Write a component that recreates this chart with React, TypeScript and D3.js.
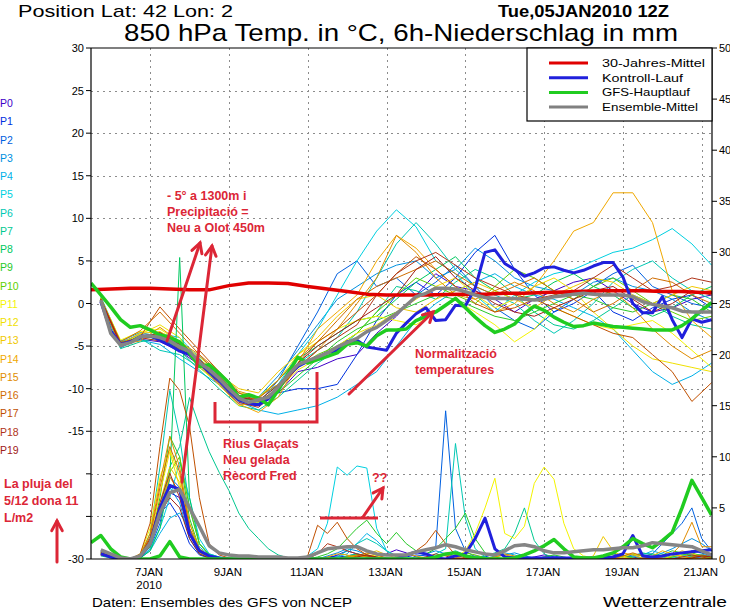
import React from 'react';
import * as d3 from 'd3';

// ---------- DATA ----------
// time index t: 6-hour steps starting 05JAN2010 12Z (t=0) to 21JAN 06Z (t=63)
const dateLabels = ['7JAN', '9JAN', '11JAN', '13JAN', '15JAN', '17JAN', '19JAN', '21JAN'];
const dateTimes = [6, 14, 22, 30, 38, 46, 54, 62];
const leftTicks = [30, 25, 20, 15, 10, 5, 0, -5, -10, -15, -20, -25, -30];
const leftTickLabels = ['30', '25', '20', '15', '10', '5', '0', '-5', '-10', '-15', '', '', '-30'];
const rightTicks = [50, 45, 40, 35, 30, 25, 20, 15, 10, 5, 0];
const gridTemps = [25, 20, 15, 10, 5, 0, -5, -10, -15, -20, -25];

const memberNames = ['P0','P1','P2','P3','P4','P5','P6','P7','P8','P9','P10','P11','P12','P13','P14','P15','P16','P17','P18','P19'];
const memberColors = ['#4000c8','#0030e0','#0060e0','#0090e0','#00b0e8','#00d0e0','#00c8b4','#00c890','#00c860','#28c828',
  '#60d000','#f4f400','#f0e000','#f0c800','#f0a800','#e08c00','#d06c00','#c05000','#b03418','#a02018'];

// 30-year climatology, 12h steps t=0,2,...,64
const climTemp = [1.6,1.7,1.8,1.8,1.7,1.6,1.6,2.1,2.4,2.4,2.35,2.0,1.7,1.4,1.1,1.0,1.0,1.0,1.05,1.1,1.1,1.2,1.2,1.3,1.35,1.45,1.5,1.5,1.5,1.4,1.4,1.3,1.3];

// GFS main run, 6h steps t=0..63
const gfsTemp = [2.4,1.0,-0.4,-1.9,-2.8,-2.6,-3.1,-3.7, -4.0,-4.5,-5.8,-7.4,-7.2,-8.2,-9.3,-11.0,
  -10.7,-11.1,-11.9,-10.2,-8.2,-6.3,-7.0,-6.6, -6.2,-5.8,-4.8,-4.6,-5.0,-3.8,-3.1,-3.1,
  -3.0,-2.0,-1.5,-1.0,-0.2,0.6,-0.5,-1.6, -2.6,-3.4,-3.0,-2.4,-1.2,-0.3,-0.8,-1.6,
  -2.2,-2.7,-2.6,-2.3,-2.5,-2.7,-2.8,-2.9, -3.0,-3.1,-3.1,-3.1,-2.6,-1.8,-0.8,0.1];
const gfsPrec = [1.6,2.3,1.0,0.2,0,0,0,0.3, 1.7,0.2,0,0,0,0,0,0, 0,0,0,0,0,0,0,0, 0,0,0,0,0,0,0,0,
  0,0,0,0.2,0.5,0.6,0.3,0.1, 0,0,0,0.1,0.4,0.8,1.3,1.9, 1.0,0.2,0.1,0.1,0.3,0.6,1.2,2.0, 1.5,1.1,1.8,2.6,5.0,7.7,6.0,4.3];

// Control run, 6h steps t=1..63
const ctrlTemp = [0.2,-3.2,-4.8,-4.5,-3.9,-3.8,-4.3, -4.9,-5.6,-6.0,-7.0,-8.0,-9.0,-10.2,
  -11.3,-11.7,-11.9,-11.2,-9.8,-8.4,-7.4, -6.8,-6.3,-5.8,-5.5,-4.5,-4.3,-5.1,
  -5.3,-5.5,-3.5,-2.3,-1.2,-0.5,-2.0, -1.9,-0.2,-0.3,1.8,6.0,6.3,4.7,
  4.0,3.2,3.6,4.2,4.3,3.9,3.6, 3.9,4.4,4.8,4.8,3.1,0.0,-1.1, -1.1,0.8,-1.9,-4.0,-1.8,-2.2,-1.9];
const ctrlPrec = [0.5,0.2,0,0,0.2,1.5,5.0, 7.2,6.8,2.5,0.8,0.3,0.1,0, 0,0,0,0,0,0,0, 0,0,0,0,0,0,0,
  0,0,0,0.4,0.7,0.5,0.1, 0,0.3,0.5,2.0,4.0,1.0,0.2, 0.1,0.1,0.1,0.1,0.1,0.1,0.1,
  0.1,0.1,0.1,0.2,0.5,2.3,0.3, 0.2,0.3,0.5,0.6,0.7,0.8,0.9];

// Ensemble mean, 6h steps t=1..63
const meanTemp = [0.4,-3.5,-4.9,-4.6,-3.9,-3.8,-4.0, -4.4,-5.1,-5.6,-6.9,-7.8,-8.8,-10.0,
  -11.1,-11.6,-11.3,-11.0,-9.8,-8.4,-7.2, -6.7,-6.3,-5.8,-5.1,-4.6,-4.1,-3.3,
  -2.8,-2.0,-1.2,-0.2,0.8,1.2,1.8, 1.8,1.7,1.4,1.0,0.7,0.6,0.6,
  0.6,0.5,0.4,0.5,0.8,0.9,1.1, 1.2,1.1,1.0,1.0,1.0,0.8,0.2, -0.1,-0.3,-0.5,-0.9,-1.0,-1.0,-1.0];
const meanPrec = [0.9,0.5,0.1,0,0.3,1.5,4.5, 6.5,6.8,5.0,3.2,1.3,0.6,0.4, 0.3,0.3,0.2,0.2,0.2,0.1,0.1,
  0.2,0.6,1.0,1.1,1.2,1.2,0.8, 0.5,0.4,0.4,0.4,0.7,0.9,1.1, 1.4,1.2,0.9,0.7,0.5,0.4,0.8,
  1.3,1.4,1.2,0.8,0.6,0.6,0.7, 0.8,0.9,0.9,1.0,1.1,1.1,1.3, 1.6,1.5,1.4,1.3,1.2,0.8,0.4];

// Members temperature, 12h steps t=1,3,...,63
const p0T = [0.3,-5.0,-4.2,-4.5,-5.6,-7.2,-9.4,-11.8, -12.0,-10.5,-8.0,-7.5,-6.5,-6.0,-3.5,-1.5, 1.0,3.5,2.0,1.5,0.5,-1.0,0.5,1.5, 2.5,3.0,1.5,0.0,-1.0,-0.5,0.5,1.0];
const p1T = [0.5,-4.6,-3.6,-4.2,-5.0,-6.5,-8.5,-10.8, -11.5,-10.5,-10.0,-10.0,-9.5,-6.0,-2.0,1.0, 2.5,1.0,3.0,6.0,8.0,4.0,1.0,-1.0, 0.0,1.5,-1.0,-2.0,-0.5,0.5,1.0,-0.5];
const p2T = [0.6,-5.2,-4.0,-3.8,-4.8,-7.0,-9.0,-11.3, -11.8,-9.0,-5.0,-1.0,3.5,5.0,2.0,3.0, 1.0,2.5,4.5,2.0,-0.5,-2.0,-3.0,-1.0, 0.5,2.0,3.5,4.5,2.0,1.0,0.0,-0.5];
const p3T = [0.4,-4.4,-3.4,-3.9,-4.6,-6.2,-8.2,-10.5, -11.0,-8.5,-5.5,-2.5,0.5,2.0,3.5,4.5, 5.0,3.0,4.0,6.5,5.0,3.0,2.0,1.5, 1.0,2.5,3.0,2.0,1.5,0.5,-1.0,-2.0];
const p4T = [0.7,-4.8,-4.3,-4.8,-6.5,-8.0,-9.5,-11.5, -12.5,-13.0,-12.5,-12.0,-11.0,-9.5,-8.0,-5.0, -2.0,0.0,1.5,2.5,3.5,2.0,1.0,0.5, -0.5,-1.5,-3.0,-5.5,-8.0,-9.5,-8.5,-7.0];
const p5T = [0.8,-4.5,-3.8,-3.5,-4.0,-6.5,-9.0,-11.0, -11.5,-9.5,-6.0,-3.0,1.0,5.0,8.5,11.0, 9.0,5.0,3.5,1.0,-1.0,1.0,2.5,3.5, 4.0,5.0,6.0,6.5,7.5,8.8,7.0,4.5];
const p6T = [0.5,-4.7,-4.1,-5.5,-6.0,-7.5,-9.2,-11.0, -11.0,-9.5,-7.0,-5.5,-4.0,-1.0,3.0,7.0, 9.5,7.0,4.0,2.0,1.0,0.0,-2.0,-3.5, -2.0,0.0,2.5,4.0,5.0,3.0,1.5,0.5];
const p7T = [0.3,-5.3,-4.5,-4.0,-5.5,-7.8,-10.0,-12.0, -12.5,-11.0,-9.0,-7.0,-5.5,-3.5,-1.0,2.0, 1.5,0.5,2.5,4.0,3.0,1.0,-1.0,-2.5, -3.0,-2.0,-0.5,1.0,0.0,-1.5,-2.5,-3.0];
const p8T = [0.6,-4.9,-3.7,-4.2,-5.2,-7.0,-8.6,-10.8, -11.0,-9.0,-6.5,-5.0,-3.5,-2.0,-1.5,0.5, 2.5,4.0,5.5,3.0,1.5,0.5,1.0,2.5, 3.5,2.0,1.0,-0.5,-1.5,-0.5,1.0,2.0];
const p9T = [0.4,-4.6,-3.9,-4.1,-5.4,-6.8,-8.8,-11.2, -11.4,-10.5,-8.5,-6.5,-4.5,-3.0,-2.0,-1.0, 0.0,1.0,0.5,-0.5,-1.5,-2.0,-1.0,0.0, 1.0,0.5,-0.5,-1.0,0.0,1.0,0.5,-1.0];
const p10T = [0.5,-5.0,-4.0,-3.7,-4.9,-6.9,-9.1,-11.4, -11.6,-9.9,-7.5,-6.0,-5.0,-3.5,-1.0,1.0, 3.0,2.0,1.0,0.0,2.0,4.0,3.0,1.5, 0.5,2.0,3.0,1.5,0.0,-1.0,-2.0,-1.5];
const p11T = [0.6,-4.3,-3.3,-3.0,-4.5,-6.3,-8.2,-10.5, -11.0,-9.0,-6.0,-4.5,-3.0,-2.0,-1.5,-2.0, -2.5,-1.0,0.5,-1.0,-2.5,-4.5,-3.0,-0.5, -1.5,-2.5,-3.0,-2.5,-2.0,-3.5,-5.5,-7.5];
const p12T = [0.7,-4.9,-3.6,-2.5,-4.0,-7.5,-9.5,-12.0, -11.5,-10.0,-7.8,-6.5,-5.0,-3.5,-2.5,-1.0, 0.5,2.0,3.0,1.0,-0.5,0.5,2.0,3.0, 1.5,-1.0,-3.0,-5.0,-6.5,-7.0,-7.5,-8.0];
const p13T = [0.4,-4.7,-3.5,-3.3,-4.6,-6.6,-8.3,-10.0, -10.5,-8.0,-6.0,-4.0,-1.5,0.5,1.0,-0.5, -1.0,0.5,1.5,2.5,1.5,0.5,-0.5,1.0, 2.0,3.0,2.5,1.0,0.0,1.0,2.0,1.5];
const p14T = [0.5,-5.1,-3.8,-3.6,-5.0,-7.2,-9.6,-11.8, -12.8,-11.0,-7.0,-3.0,-1.0,1.0,5.0,8.0, 6.5,4.0,2.0,0.5,-1.0,0.0,2.0,5.0, 8.5,9.5,13.0,13.0,9.5,1.5,-2.0,-4.0];
const p15T = [0.3,-4.8,-4.4,-2.8,-4.5,-6.0,-8.0,-10.3, -11.0,-9.5,-7.5,-5.5,-3.0,0.0,3.0,8.0, 6.0,3.0,1.0,0.5,1.5,2.5,1.5,0.0, -1.0,0.5,1.5,-0.5,-3.0,-5.0,-6.5,-5.5];
const p16T = [0.6,-4.5,-3.2,-1.0,-3.5,-6.0,-8.5,-11.0, -11.2,-9.0,-6.5,-4.5,-2.0,0.5,2.0,3.0, 4.0,5.0,3.5,2.0,1.0,2.0,3.0,1.5, 0.5,-1.0,0.0,1.5,3.0,2.5,1.0,0.0];
const p17T = [0.5,-4.9,-3.9,-0.4,-3.0,-5.5,-8.0,-10.5, -11.5,-10.0,-7.0,-4.5,-3.0,-1.0,1.0,3.5, 5.5,4.0,2.0,0.0,-1.0,-0.5,0.5,-0.5, -1.5,-2.5,-3.5,-4.0,-6.0,-8.0,-11.5,-9.3];
const p18T = [0.4,-4.6,-4.0,-4.4,-5.3,-7.1,-9.3,-11.6, -12.2,-10.2,-7.5,-5.5,-4.0,-2.5,1.0,3.5, 5.0,6.0,4.5,3.0,2.0,1.0,0.5,1.0, 1.5,3.0,4.5,3.0,1.5,2.0,3.0,2.5];
const p19T = [0.5,-4.8,-4.1,-3.4,-4.8,-6.6,-8.7,-11.0, -11.4,-9.6,-7.0,-5.0,-3.5,-2.0,-0.5,1.0, 4.0,5.5,3.0,1.5,0.0,-1.0,-1.5,-0.5, 0.5,1.5,2.0,0.5,-1.0,0.0,1.5,1.0];

// Members precipitation, 6h steps t=1..63
const p0P = [0.8,0.4,0.1,0,0.2,1.2,4.0, 6.5,6.0,2.5,0.6,0.2,0.1,0, 0,0,0,0,0,0,0, 0,0,0.2,0.3,0.2,0,0, 0,0.5,0.9,0.6,0.2,0,0, 0,0,0.1,0.3,0.2,0,0, 0,0,0.2,0.4,0.2,0,0, 0,0,0,0.1,0.3,0.2,0, 0,0.2,0.5,0.3,0.1,0.2,0.4];
const p1P = [0.6,0.3,0,0,0.3,1.8,4.5, 5.5,4.0,1.5,0.4,0.1,0,0, 0,0,0,0,0,0,0, 0,0,0,0.4,0.8,0.5,0.2, 0,0,0,0.2,0.4,0.3,0, 0,0,0,0,0.2,0.5,0.3, 0.1,0,0,0,0,0,0, 0,0,0.2,0.5,0.3,0.1,0, 0,0,0,0.3,0.8,0.6,0.3];
const p2P = [0.7,0.5,0.1,0,0.1,1.0,3.5, 8.0,7.0,3.0,0.8,0.3,0.1,0, 0,0,0,0,0,0,0, 0,0,0,0,0.3,0.5,0.3, 0.1,0,0,0.3,0.6,0.8,1.2, 14.5,3.0,0.8,0.2,0,0,0, 0,0,0,0.2,0.3,0.1,0, 0,0,0,0,0.2,0.4,0.5, 0.5,1.5,2.5,3.5,5.0,2.0,0.8];
const p3P = [0.5,0.3,0,0,0.2,1.5,4.5, 7.0,5.5,2.0,0.5,0.1,0,0, 0,0,0,0,0,0,0, 0,0,0.3,0.6,1.0,0.8,0.4, 0.2,0.1,0,0,0.2,0.5,0.8, 0.5,0.2,0,0,0,0.2,0.4, 0.6,0.3,0.1,0,0,0,0, 0,0.1,0.3,0.2,0,0,0, 0.2,0.6,1.0,1.5,2.0,1.5,0.8];
const p4P = [0.6,0.2,0,0,0.1,0.8,2.5, 4.0,4.5,3.0,1.2,0.4,0.1,0, 0,0,0,0,0,0,0, 0,0,0,0.2,0.5,1.5,2.5, 1.8,0.8,0.3,0.1,0,0,0, 0,0,0,0,0,0.3,0.6, 0.4,0.1,0,0,0,0,0, 0,0,0,0,0,0.2,0.4, 0.8,0.5,0.2,0.1,0.3,0.5,0.2];
const p5P = [0.5,0.2,0,0,0.1,1.0,3.0, 6.0,9.5,6.0,2.0,0.5,0.2,0, 0,0,0,0,0,0,0.1, 0.3,1.0,3.5,9.0,8.2,9.1,8.9, 3.0,0.8,0.2,0,0,0,0, 0,0,0,0,0,0,0, 0,0,0,0,0,0,0, 0,0,0,0,0,0,0, 0,0,0.2,0.4,0.2,0,0];
const p6P = [0.4,0.2,0,0,0.3,2.5,9.0, 16.5,12.0,5.0,1.5,0.5,0.2,0, 0,0,0,0,0,0,0, 0,0,0,0.2,0.8,1.5,2.0, 1.5,0.8,0.3,0.1,0,0,0.5, 1.0,11.3,4.0,1.0,0.2,0,0, 0,0,0,0,0,0,0, 0,0,0.1,0.3,0.1,0,0, 0,0,0.3,0.6,0.4,0.2,0];
const p7P = [0.3,0.1,0,0,0.2,1.5,5.0, 9.0,11.0,15.8,13.0,10.5,8.5,6.7, 4.5,3.0,2.0,1.0,0.4,0.1,0, 0,0,0,0,0.3,0.5,0.3, 0.1,0,0,0,0,0,0.3, 0.5,0.8,0.4,0.2,0.3,0.6,1.0, 2.5,5.0,1.8,0.5,0.1,0,0, 0,0,0,0,0,0.3,0.6, 0.4,0.2,0,0,0.2,0.4,0.2];
const p8P = [0.5,0.2,0,0,0.1,0.8,3.0, 8.0,29.5,6.0,1.5,0.4,0.1,0, 0,0,0,0,0,0,0, 0,0,0,0,0.2,0.4,0.2, 0,0,0,0,0,0,0, 0,0,0,0,0,0,0, 0,0,0,0,0,0,0, 0,0,0,0,0,0,0.2, 0.5,0.3,0.1,0,0.1,0.3,0.2];
const p9P = [0.4,0.2,0,0,0.2,1.5,6.0, 12.0,10.0,4.0,1.0,0.3,0.1,0, 0,0,0,0,0,0,0, 0,0.2,0.5,1.0,2.0,3.0,3.8, 2.5,1.5,2.6,1.5,0.8,0.5,1.0, 2.0,3.0,4.5,2.0,0.6,0.2,0, 0,0,0,0.2,0.4,0.2,0, 0,0,0,0.1,0.3,0.5,0.3, 0.2,0.4,0.8,0.6,0.3,0.2,0.1];
const p10P = [0.6,0.3,0,0,0.2,1.2,4.5, 8.5,10.0,5.0,1.5,0.4,0.1,0, 0,0,0,0,0,0,0, 0,0,0,0,0.2,0.4,0.3, 0.2,0,0,0,0,0,0, 0,0.3,0.6,0.4,0.1,0,0, 0,0,0,0,0,0,0, 0,0,0.2,0.6,0.3,0.1,0, 0,0,0.2,0.4,0.6,0.3,0.1];
const p11P = [0.5,0.2,0,0,0.5,3.0,8.0, 10.7,8.0,3.5,1.0,0.3,0.1,0, 0,0,0,0,0,0,0, 0,0,0,0,0,0.2,0.4, 0.3,0.1,0,0,0,0,0, 0,0.2,0.8,2.5,5.0,7.9,2.5, 2.0,3.2,7.4,9.0,7.8,3.5,1.0, 0.3,0.1,0,0,0,0,0, 0,0.2,0.5,0.3,0.1,0,0];
const p12P = [0.5,0.2,0,0,0.3,2.0,6.5, 10.5,7.0,2.5,0.6,0.2,0,0, 0,0,0,0,0,0,0, 0,0,0,0,0.1,0.3,0.2, 0,0,0,0,0,0,0, 0,0,0,0,0,0,0, 0,0,0,0,0,0,0, 0,0,0,0,0.2,0.5,0.3, 0,0,0,0,0,0,0];
const p13P = [0.6,0.3,0,0,0.2,1.5,5.5, 9.0,7.5,3.0,0.8,0.2,0,0, 0,0,0,0,0,0,0, 0,0,0,0,0,0.2,0.5, 0.8,0.4,0.1,0,0,0,0, 0,0,0,0,0,0.2,0.4, 0.2,0,0,0,0,0,0, 0,0.3,2.2,0.8,0.2,0,0, 0,0,0.3,0.8,0.5,0.2,0];
const p14P = [0.4,0.2,0,0,0.2,1.8,5.0, 8.0,6.5,2.5,0.7,0.2,0,0, 0,0,0,0,0,0,0, 0,0,0.2,0.5,0.4,0.1,0, 0,0,0.2,0.5,0.3,0.1,0, 0,0,0,0,0,0,0, 0,0,0,0,0,0,0, 0,0,0,0.3,0.6,0.4,0.1, 0.3,0.8,0.5,0.2,0.1,0,0];
const p15P = [0.5,0.3,0,0,0.4,2.5,7.5, 12.0,9.0,3.5,1.0,0.3,0.1,0, 0,0,0,0,0,0,0, 0,0,0,0,0.2,0.4,0.2, 0,0,0,0,0,0,0.2, 0.4,0.2,0,0,0,0.2,0.5, 0.3,0,0,0,0,0,0, 0,0,0,0,0,0,0, 0,0.2,0.5,1.5,3.6,1.2,1.2];
const p16P = [0.6,0.2,0,0,0.3,2.2,7.0, 11.0,8.5,3.0,0.8,0.2,0,0, 0,0,0,0,0,0,0, 0,0,0,0,0,0.3,0.6, 0.4,0.1,0,0,0,0,0, 0,0,0,0,0,0,0, 0,0,0,0,0,0,0, 0,0,0,0,0.3,0.6,0.3, 0,0,0,0,0.2,0.4,0.2];
const p17P = [0.4,0.2,0,0,0.5,3.5,11.0, 17.7,16.5,13.0,6.0,1.5,0.4,0.1, 0,0,0,0,0,0,0, 0.3,3.3,2.5,3.6,2.0,1.0,0.4, 0.1,0,0,0.3,0.8,1.5,2.8, 1.5,0.4,0.1,0,0,0,0, 0,0,0,0,0,0,0, 0,0,0,0,0,0,0, 0,0,0,0,0,0,0];
const p18P = [0.5,0.2,0,0,0.3,2.0,5.5, 8.4,6.0,2.5,0.8,0.2,0,0, 0,0,0,0,0,0,0, 0,0.5,1.5,1.2,0.8,0.5,0.3, 0.1,0,0,0,0,0.2,0.5, 0.3,0,0,0,0,0,0, 0,0,0,0,0,0,0, 0,0,0,0,0,0,0, 0,0,0,0.2,0.4,0.2,0];
const p19P = [0.6,0.3,0,0,0.2,1.5,4.5, 6.0,5.0,2.0,0.5,0.1,0,0, 0,0,0,0,0,0,0, 0,0,0,0,0,0.2,0.4, 0.2,0,0,0,0,0,0, 0,0,0,0,0,0,0, 0,0,0,0,0,0,0, 0,0,0,0,0,0,0, 0,0,0,0,0.1,0.3,0.2];

const memberTemps = [p0T,p1T,p2T,p3T,p4T,p5T,p6T,p7T,p8T,p9T,p10T,p11T,p12T,p13T,p14T,p15T,p16T,p17T,p18T,p19T];
const memberPrecs = [p0P,p1P,p2P,p3P,p4P,p5P,p6P,p7P,p8P,p9P,p10P,p11P,p12P,p13P,p14P,p15P,p16P,p17P,p18P,p19P];

const legendItems = [
  { label: '30-Jahres-Mittel', color: '#e00000', len: 103 },
  { label: 'Kontroll-Lauf', color: '#2020dc', len: 81 },
  { label: 'GFS-Hauptlauf', color: '#20cc20', len: 88 },
  { label: 'Ensemble-Mittel', color: '#808080', len: 96 },
];

const FONT = "'Liberation Sans', Arial, sans-serif";
const RED = '#dc2636';

function Arrow({ x1, y1, x2, y2 }: { x1: number; y1: number; x2: number; y2: number }) {
  const a = Math.atan2(y2 - y1, x2 - x1);
  const L = 11, s = 0.5;
  const w1 = [x2 - L * Math.cos(a - s), y2 - L * Math.sin(a - s)];
  const w2 = [x2 - L * Math.cos(a + s), y2 - L * Math.sin(a + s)];
  return (
    <g stroke={RED} strokeWidth={3} strokeLinecap="round" fill="none">
      <line x1={x1} y1={y1} x2={x2} y2={y2} />
      <polyline points={`${w1[0]},${w1[1]} ${x2},${y2} ${w2[0]},${w2[1]}`} />
    </g>
  );
}

export default function App() {
  const L = 91, R = 712, T = 48, B = 559;
  const x = d3.scaleLinear().domain([0, 63]).range([L, 711.6]);
  const yT = d3.scaleLinear().domain([-30, 30]).range([B, T]);
  const yP = d3.scaleLinear().domain([0, 50]).range([B, T]);

  const mk = (vals: number[], t0: number, step: number, y: d3.ScaleLinear<number, number>) =>
    d3.line<number>().x((_, i) => x(t0 + i * step)).y((v) => y(v))(vals) || '';

  const annTxt = (lines: string[], x0: number, y0: number, dy: number, size = 12.5) => (
    <text fill={RED} fontFamily={FONT} fontWeight="bold" fontSize={size}>
      {lines.map((s, i) => (
        <tspan key={i} x={x0} y={y0 + i * dy}>{s}</tspan>
      ))}
    </text>
  );

  return (
    <svg width={730} height={609} style={{ position: 'absolute', left: 0, top: 0, background: '#fff' }}
      xmlns="http://www.w3.org/2000/svg">
      <rect x={0} y={0} width={730} height={609} fill="#fff" />
      <defs>
        <clipPath id="plot"><rect x={L} y={T} width={R - L} height={B - T} /></clipPath>
      </defs>

      {/* header */}
      <text x={18} y={17} fontFamily={FONT} fontSize={17} textLength={215} lengthAdjust="spacingAndGlyphs">Position  Lat: 42 Lon: 2</text>
      <text x={498} y={16.5} fontFamily={FONT} fontWeight="bold" fontSize={17} textLength={171} lengthAdjust="spacingAndGlyphs">Tue,05JAN2010  12Z</text>
      <text x={124} y={41} fontFamily={FONT} fontSize={24} textLength={554} lengthAdjust="spacingAndGlyphs">850 hPa Temp. in °C, 6h-Niederschlag in mm</text>

      {/* grid */}
      <g stroke="#8c8c8c" strokeWidth={1} strokeDasharray="2 4">
        {gridTemps.map((v) => (
          <line key={'h' + v} x1={L} x2={R} y1={Math.round(yT(v)) + 0.5} y2={Math.round(yT(v)) + 0.5} />
        ))}
        {dateTimes.map((t) => (
          <line key={'v' + t} x1={Math.round(x(t)) + 0.5} x2={Math.round(x(t)) + 0.5} y1={T} y2={B} />
        ))}
      </g>

      <g clipPath="url(#plot)" fill="none" strokeLinejoin="round">
        {memberTemps.map((vals, i) => (
          <path key={'mt' + i} d={mk(vals, 1, 2, yT)} stroke={memberColors[i]} strokeWidth={1} />
        ))}
        {memberPrecs.map((vals, i) => (
          <path key={'mp' + i} d={mk(vals, 1, 1, yP)} stroke={memberColors[i]} strokeWidth={1} />
        ))}
        <path d={mk(climTemp, 0, 2, yT)} stroke="#e00000" strokeWidth={3.5} />
        <path d={mk(ctrlTemp, 1, 1, yT)} stroke="#2020dc" strokeWidth={3} />
        <path d={mk(ctrlPrec, 1, 1, yP)} stroke="#2020dc" strokeWidth={3} />
        <path d={mk(gfsTemp, 0, 1, yT)} stroke="#20cc20" strokeWidth={3.5} />
        <path d={mk(gfsPrec, 0, 1, yP)} stroke="#20cc20" strokeWidth={3.5} />
        <path d={mk(meanTemp, 1, 1, yT)} stroke="#858585" strokeWidth={3.5} />
        <path d={mk(meanPrec, 1, 1, yP)} stroke="#858585" strokeWidth={3.5} />
      </g>

      {/* frame */}
      <g stroke="#000" strokeWidth={1.2} fill="none">
        <line x1={L} x2={R} y1={T} y2={T} />
        <line x1={L} x2={L} y1={T} y2={B} />
        <line x1={R} x2={R} y1={T} y2={B} />
        <line x1={L} x2={R} y1={B} y2={B} />
      </g>

      {/* left axis */}
      {leftTicks.map((v, i) => (
        <g key={'lt' + v}>
          <line x1={86} x2={L} y1={yT(v)} y2={yT(v)} stroke="#000" />
          {leftTickLabels[i] && (
            <text x={84} y={yT(v) + 4} textAnchor="end" fontFamily={FONT} fontSize={11}>{leftTickLabels[i]}</text>
          )}
        </g>
      ))}
      {/* right axis */}
      {rightTicks.map((v) => (
        <g key={'rt' + v}>
          <line x1={R} x2={717} y1={yP(v)} y2={yP(v)} stroke="#000" />
          <text x={719} y={yP(v) + 4} fontFamily={FONT} fontSize={11}>{v}</text>
        </g>
      ))}
      {/* x labels */}
      {dateLabels.map((s, i) => (
        <text key={s} x={x(dateTimes[i]) - 1} y={576} textAnchor="middle" fontFamily={FONT} fontSize={11.5}>{s}</text>
      ))}
      <text x={x(dateTimes[0]) - 1} y={589} textAnchor="middle" fontFamily={FONT} fontSize={11.5}>2010</text>

      {/* member labels */}
      {memberNames.map((n, i) => (
        <text key={n} x={0} y={107 + i * 18.25} fill={memberColors[i]} fontFamily={FONT} fontSize={10.5}>{n}</text>
      ))}

      {/* legend */}
      <rect x={527} y={T} width={R - 527} height={73} fill="#fff" stroke="#000" strokeWidth={1.2} />
      {legendItems.map((it, i) => (
        <g key={it.label}>
          <line x1={549} x2={588} y1={63 + i * 14.7} y2={63 + i * 14.7} stroke={it.color} strokeWidth={3} />
          <text x={602} y={67 + i * 14.7} fontFamily={FONT} fontSize={11.5} textLength={it.len} lengthAdjust="spacingAndGlyphs">{it.label}</text>
        </g>
      ))}

      {/* bottom texts */}
      <text x={92} y={607} fontFamily={FONT} fontSize={13} textLength={260} lengthAdjust="spacingAndGlyphs">Daten: Ensembles des GFS von NCEP</text>
      <text x={727} y={607} textAnchor="end" fontFamily={FONT} fontSize={14} textLength={124} lengthAdjust="spacingAndGlyphs">Wetterzentrale</text>

      {/* annotations */}
      {annTxt(['- 5° a 1300m i', 'Precipitació =', 'Neu a Olot 450m'], 167, 199.5, 16, 12.5)}
      <Arrow x1={167} y1={341} x2={200} y2={243} />
      <Arrow x1={182} y1={482} x2={212} y2={246} />

      <path d="M215,402 V422 H317 V372 M260,422 V432" stroke={RED} strokeWidth={3} fill="none" />
      {annTxt(['Rius Glaçats', 'Neu gelada', 'Rècord Fred'], 223, 447.5, 16, 12.5)}

      {annTxt(['Normalització', 'temperatures'], 415, 357.5, 16, 12.5)}
      <Arrow x1={349} y1={394} x2={433} y2={312} />

      <line x1={320} x2={378} y1={518} y2={518} stroke={RED} strokeWidth={3} />
      <Arrow x1={363} y1={517} x2={383} y2={488} />
      {annTxt(['??'], 372, 482, 16, 12.5)}

      {annTxt(['La pluja del', '5/12 dona 11', 'L/m2'], 4, 488, 17, 12.5)}
      <Arrow x1={57} y1={562} x2={57} y2={521} />
    </svg>
  );
}
